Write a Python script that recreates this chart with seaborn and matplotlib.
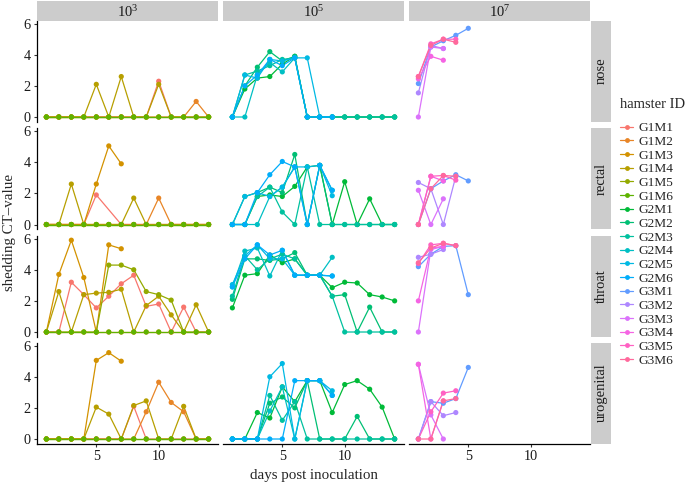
import numpy as np
import pandas as pd
import matplotlib
matplotlib.use("Agg")
import matplotlib.pyplot as plt
import seaborn as sns
from matplotlib.lines import Line2D

nan = np.nan

# ---- data -------------------------------------------------------------
doses = ["$\\mathregular{10^{3}}$", "$\\mathregular{10^{5}}$", "$\\mathregular{10^{7}}$"]
sites = ["nose", "rectal", "throat", "urogenital"]
hamster_ids = [f"G{g}M{m}" for g in (1, 2, 3) for m in range(1, 7)]

# each inner list = one hamster, values for day 1, 2, 3, ...
nose_g1 = [
    [0, 0, 0, 0, 0, 0, 0, 0, 0, 2.3, 0, 0, 0, 0],
    [0, 0, 0, 0, 0, 0, 0, 0, 0, 0, 0, 0, 1.0, 0],
    [0, 0, 0, 0, 0, 0, 0],
    [0, 0, 0, 0, 2.1, 0, 2.6, 0, 0, 2.1, 0, 0, 0, 0],
    [0, 0, 0, 0, 0, 0, 0, 0, 0, 0, 0, 0, 0, 0],
    [0, 0, 0, 0, 0, 0, 0, 0, 0, 0, 0, 0, 0, 0],
]
nose_g2 = [
    [0, 1.8, 2.5, 2.6, 3.4, 3.9, 0, 0, 0, 0, 0, 0, 0, 0],
    [0, 2.0, 3.2, 4.2, 3.6, 3.9, 0, 0, 0, 0, 0, 0, 0, 0],
    [0, 2.7, 2.95, 3.3, 3.7, 3.8, 0, 0, 0, 0, 0, 0, 0, 0],
    [0, 0, 2.7, 3.5, 2.9, 3.8, 0, 0, 0],
    [0, 2.7, 2.5, 3.7, 3.6, 3.8, 3.8, 0, 0],
    [0, 2.0, 2.7, 3.7, 3.3, 3.8, 0, 0, 0],
]
nose_g3 = [
    [2.15, 4.5, 4.9, 5.25, 5.7],
    [1.55, 4.6, 4.4],
    [0, 4.5, 4.4],
    [2.45, 3.9, 3.65],
    [2.6, 4.7, 5.0, 5.0],
    [2.6, 4.6, 5.0, 4.8],
]

rectal_g1 = [
    [0, 0, 0, 0, 1.9, nan, 0, 0, 0, 0, 0, 0, 0, 0],
    [0, 0, 0, 0, 0, 0, 0, 0, 0, 1.7, 0, 0, 0, 0],
    [0, 0, 0, 0, 2.6, 5.05, 3.9],
    [0, 0, 2.6, 0, 0, 0, 0, 1.7, 0, 0, 0, 0, 0, 0],
    [0, 0, 0, 0, 0, 0, 0, 0, 0, 0, 0, 0, 0, 0],
    [0, 0, 0, 0, 0, 0, 0, 0, 0, 0, 0, 0, 0, 0],
]
rectal_g2 = [
    [0, 0, 1.8, 1.9, 1.8, 2.45, 3.7, 3.8, 0, 2.75, 0, 1.65, 0, 0],
    [0, 1.8, 2.05, 2.4, 2.05, 4.5, 0, 3.8, 0, 0, 0, 0, 0, 0],
    [0, 0, 1.8, 2.4, 0.8, 0, 3.7, 0, 0, 0, 0, 0, 0, 0],
    [0, 0, 0, 1.8, 2.4, 3.7, 0, 3.8, 2.2],
    [0, 1.8, 2.05, 1.8, 2.4, 3.7, 3.7, 3.8, 1.85],
    [0, 0, 2.05, 3.2, 4.05, 3.7, 0, 3.8, 2.2],
]
rectal_g3 = [
    [0, 2.3, 2.8, 3.2, 2.8],
    [2.7, 2.3, 0, 3.1],
    [2.2, 0, 1.65],
    [0, 3.1, 2.8],
    [0, 3.1, 3.15, 2.85],
    [0, 2.3, 3.15, 3.1],
]

throat_g1 = [
    [0, 0, 3.2, 2.4, 1.55, 2.3, 3.1, 3.65, 1.65, 1.8, 0, 1.6, 0, 0],
    [0, 0, 0, 0, 0, 0, 0, 0, 0, 0, 0, 0, 0, 0],
    [0, 3.7, 5.9, 3.5, 0, 5.6, 5.35],
    [0, 2.6, 0, 2.4, 2.5, 2.55, 2.75, 0, 1.7, 2.3, 1.1, 0, 1.75, 0],
    [0, 0, 0, 0, 0, 4.3, 4.3, 4.0, 2.6, 2.4, 2.05, 0, 0, 0],
    [0, 0, 0, 0, 0, 0, 0, 0, 0, 0, 0, 0, 0, 0],
]
throat_g2 = [
    [1.55, 3.65, 3.75, 4.95, 4.45, 4.7, 3.65, 3.65, 2.85, 3.2, 3.15, 2.4, 2.25, 2.0],
    [2.1, 4.7, 4.7, 4.6, 4.7, 5.1, 3.65, 3.65, 2.3, 2.4, 0, 1.6, 0, 0],
    [2.3, 4.9, 4.0, 4.7, 5.0, 4.7, 3.65, 3.65, 2.3, 0, 0, 0, 0, 0],
    [2.9, 5.2, 5.4, 3.6, 5.25, 3.65, 3.65, 3.65, 4.8],
    [3.05, 4.9, 5.6, 4.7, 4.7, 3.65, 3.65, 3.65, 3.6],
    [2.9, 4.7, 5.6, 4.95, 5.25, 3.65, 3.65, 3.65, 3.6],
]
throat_g3 = [
    [4.2, 5.0, 5.5, 5.55, 2.4],
    [4.8, 5.0, 5.3],
    [0, 5.3, 5.5],
    [2.0, 5.4, 5.5],
    [4.4, 5.6, 5.7, 5.55],
    [4.45, 5.4, 5.7, 5.55],
]

urogenital_g1 = [
    [0, 0, 0, 0, 0, 0, 0, 2.1, 0, 0, 0, 0, 0, 0],
    [0, 0, 0, 0, 0, 0, 0, 0, 1.75, 3.65, 2.35, 1.75, 0, 0],
    [0, 0, 0, 0, 5.05, 5.55, 5.0],
    [0, 0, 0, 0, 2.05, 1.6, 0, 2.15, 2.45, 0, 0, 2.1, 0, 0],
    [0, 0, 0, 0, 0, 0, 0, 0, 0, 0, 0, 0, 0, 0],
    [0, 0, 0, 0, 0, 0, 0, 0, 0, 0, 0, 0, 0, 0],
]
urogenital_g2 = [
    [0, 0, 1.7, 1.35, 3.35, 2.4, 3.75, 3.75, 1.7, 3.5, 3.75, 3.2, 2.05, 0],
    [0, 0, 0, 2.3, 2.7, 2.0, 3.75, 0, 0, 0, 1.45, 0, 0, 0],
    [0, 0, 0, 2.8, 1.2, 2.4, 0, 0, 0, 0, 0, 0, 0, 0],
    [0, 0, 0, 1.8, 3.35, 0, 3.75, 3.75, 2.8],
    [0, 0, 0, 4.0, 4.85, 0, 3.75, 3.75, 3.1],
    [0, 0, 0, 0, 0, 3.75, 3.75, 3.75, 2.8],
]
urogenital_g3 = [
    [0, 2.4, 2.3, 2.6, 4.6],
    [0, 2.4, 1.5, 1.7],
    [4.8, 1.55, 0],
    [4.8, 0, 2.45],
    [0, 1.75, 2.95, 3.1],
    [0, 0, 2.45, 2.6],
]

site_data = {
    "nose": [nose_g1, nose_g2, nose_g3],
    "rectal": [rectal_g1, rectal_g2, rectal_g3],
    "throat": [throat_g1, throat_g2, throat_g3],
    "urogenital": [urogenital_g1, urogenital_g2, urogenital_g3],
}

rows = []
for site in sites:
    for gi, group in enumerate(site_data[site]):
        for mi, vals in enumerate(group):
            for d, v in enumerate(vals, start=1):
                if not np.isnan(v):
                    rows.append((site, gi, hamster_ids[gi * 6 + mi], d, v))
df = pd.DataFrame(rows, columns=["site", "dose", "hamster", "day", "ct"])


# ---- ggplot default hue palette (hcl, c=100, l=65) --------------------
def hcl_hex(h, c=100.0, l=65.0):
    un, vn = 0.1978398, 0.4683363
    u = c * np.cos(np.radians(h))
    v = c * np.sin(np.radians(h))
    Y = 100.0 * ((l + 16) / 116) ** 3
    up = u / (13 * l) + un
    vp = v / (13 * l) + vn
    X = 9.0 * Y * up / (4 * vp)
    Z = -X / 3 - 5 * Y + 3 * Y / vp
    X, Y, Z = X / 100, Y / 100, Z / 100
    rgb = [
        3.240479 * X - 1.537150 * Y - 0.498535 * Z,
        -0.969256 * X + 1.875992 * Y + 0.041556 * Z,
        0.055648 * X - 0.204043 * Y + 1.057311 * Z,
    ]
    out = []
    for ch in rgb:
        ch = 12.92 * ch if ch <= 0.0031308 else 1.055 * ch ** (1 / 2.4) - 0.055
        out.append(min(max(ch, 0.0), 1.0))
    return tuple(out)


n = len(hamster_ids)
palette = {hid: hcl_hex(15 + 360 * i / n) for i, hid in enumerate(hamster_ids)}

# ---- layout -------------------------------------------------------------
sns.set_theme(style="white")
plt.rcParams["font.family"] = ["Liberation Serif", "DejaVu Serif"]
plt.rcParams["mathtext.fontset"] = "custom"
plt.rcParams["mathtext.rm"] = "Liberation Serif"

W, H = 691, 484
fig = plt.figure(figsize=(W / 100, H / 100), dpi=100)


def box(x0, y0, w, h):
    return [x0 / W, 1 - (y0 + h) / H, w / W, h / H]


col_x = [37, 223, 409]
pw = 181
row_y = [20.6, 128.1, 235.6, 342.6]
ph = 101
strip_col = "#CCCCCC"

ymax = df["ct"].max()
ylim = (-0.05 * ymax, ymax * 1.05)

for r, site in enumerate(sites):
    for c in range(3):
        ax = fig.add_axes(box(col_x[c], row_y[r], pw, ph))
        sub = df[(df["site"] == site) & (df["dose"] == c)]
        sns.lineplot(data=sub, x="day", y="ct", hue="hamster", palette=palette,
                     estimator=None, sort=True, lw=0.9, legend=False, ax=ax)
        sns.scatterplot(data=sub, x="day", y="ct", hue="hamster", palette=palette,
                        s=14, linewidth=0, legend=False, ax=ax, zorder=3)
        ax.set_xlim(0.25, 14.75)
        ax.set_ylim(*ylim)
        ax.set_xlabel("")
        ax.set_ylabel("")
        ax.set_xticks([5, 10])
        ax.set_yticks([0, 2, 4, 6])
        for s in ax.spines.values():
            s.set_visible(False)
        ax.tick_params(length=2.5, width=0.8, color="#333333", labelsize=10.3,
                       labelcolor="#1a1a1a", pad=2)
        if c == 0:
            ax.spines["left"].set_visible(True)
            ax.spines["left"].set_linewidth(0.9)
            ax.spines["left"].set_color("black")
            ax.tick_params(axis="y", left=True)
        else:
            ax.tick_params(axis="y", left=False, labelleft=False)
        if r == len(sites) - 1:
            ax.spines["bottom"].set_visible(True)
            ax.spines["bottom"].set_linewidth(0.9)
            ax.spines["bottom"].set_color("black")
            ax.tick_params(axis="x", bottom=True)
        else:
            ax.tick_params(axis="x", bottom=False, labelbottom=False)

    # row strip
    sax = fig.add_axes(box(591, row_y[r], 20, ph))
    sax.set_facecolor(strip_col)
    sax.set_xticks([])
    sax.set_yticks([])
    for s in sax.spines.values():
        s.set_visible(False)
    sax.text(0.5, 0.5, site, rotation=90, ha="center", va="center",
             fontsize=10.5, color="#1a1a1a", transform=sax.transAxes)

# column strips
for c in range(3):
    sax = fig.add_axes(box(col_x[c], 0.6, pw, 20))
    sax.set_facecolor(strip_col)
    sax.set_xticks([])
    sax.set_yticks([])
    for s in sax.spines.values():
        s.set_visible(False)
    sax.text(0.5, 0.45, doses[c], ha="center", va="center", fontsize=10.5,
             color="#1a1a1a", transform=sax.transAxes)

fig.text((col_x[0] + col_x[2] + pw) / 2 / W, 1 - 476 / H, "days post inoculation",
         ha="center", va="center", fontsize=10.8)
fig.text(10 / W, 1 - 232 / H, "shedding CT\u2013value", rotation=90,
         ha="center", va="center", fontsize=10.8)

handles = [Line2D([0], [0], color=palette[h], lw=0.9, marker="o", markersize=3.5,
                  markeredgewidth=0) for h in hamster_ids]
leg = fig.legend(handles, hamster_ids, loc="upper left",
                 bbox_to_anchor=(620 / W, 1 - 98 / H), frameon=False,
                 title="hamster ID", fontsize=9.6, title_fontsize=10.5,
                 handlelength=1.0, handletextpad=0.4, labelspacing=0.1,
                 borderaxespad=0, borderpad=0)
leg._legend_box.align = "left"
leg._legend_box.sep = 8

fig.savefig("out.png", dpi=100)
